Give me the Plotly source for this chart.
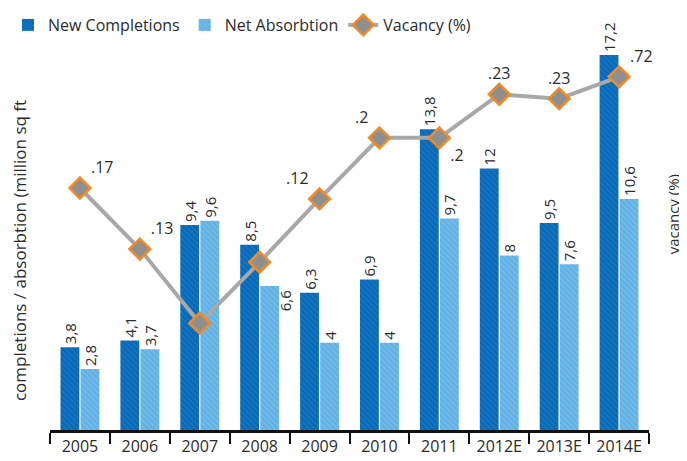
import plotly.graph_objects as go

years = ["2005", "2006", "2007", "2008", "2009", "2010", "2011", "2012E", "2013E", "2014E"]
completions = [3.8, 4.1, 9.4, 8.5, 6.3, 6.9, 13.8, 12, 9.5, 17.2]
absorption = [2.8, 3.7, 9.6, 6.6, 4, 4, 9.7, 8, 7.6, 10.6]
completion_labels = ["3,8", "4,1", "9,4", "8,5", "6,3", "6,9", "13,8", "12", "9,5", "17,2"]
absorption_labels = ["2,8", "3,7", "9,6", "", "4", "4", "9,7", "8", "7,6", "10,6"]
side_label_year = "2008"
side_label_value = 6.6
side_label_text = "6,6"
vacancy = [11.1, 8.3, 4.9, 7.7, 10.6, 13.4, 13.4, 15.4, 15.2, 16.2]
vacancy_labels = [".17", ".13", "", "", ".12", ".2", ".2", ".23", ".23", ".72"]
vacancy_label_pos = ["top right", "top right", "top center", "top center", "top left",
                     "top left", "bottom right", "top center", "top center", "top right"]

DARK = "#0869b8"
LIGHT = "#62b1e4"
FONT = "Open Sans"
TXT = "#2b2b2b"

fig = go.Figure()
fig.add_trace(go.Bar(
    x=years, y=completions, name="New Completions",
    marker=dict(color=DARK, line=dict(width=0),
                pattern=dict(shape="\\", fgcolor="#2a85cc", size=4, solidity=0.35)),
    text=completion_labels, textposition="outside", textangle=-90, constraintext="none",
    textfont=dict(family=FONT, size=15, color=TXT), cliponaxis=False,
))
fig.add_trace(go.Bar(
    x=years, y=absorption, name="Net Absorbtion",
    marker=dict(color=LIGHT, line=dict(width=0),
                pattern=dict(shape="\\", fgcolor="#8ccaf0", size=4, solidity=0.35)),
    text=absorption_labels, textposition="outside", textangle=-90, constraintext="none",
    textfont=dict(family=FONT, size=15, color=TXT), cliponaxis=False,
))
fig.add_trace(go.Scatter(
    x=years, y=vacancy, name="Vacancy (%)", yaxis="y2",
    mode="lines+markers+text",
    line=dict(color="#a8a8a8", width=4),
    marker=dict(symbol="diamond", size=16, color="#8f8f8f",
                line=dict(color="#f28a26", width=2.5)),
    text=vacancy_labels, textposition=vacancy_label_pos,
    textfont=dict(family=FONT, size=16, color=TXT), cliponaxis=False,
))

fig.add_annotation(
    x=years.index(side_label_year), y=side_label_value, xref="x", yref="y",
    text=side_label_text, textangle=-90, showarrow=False,
    xshift=25, yanchor="top", yshift=-2,
    font=dict(family=FONT, size=15, color=TXT),
)
fig.add_annotation(
    x=-0.05, y=0.465, xref="paper", yref="paper", xanchor="center", yanchor="middle",
    text="completions / absorbtion (million sq ft", textangle=-90, showarrow=False,
    font=dict(family=FONT, size=17, color=TXT),
)
fig.add_annotation(
    x=1.04, y=0.56, xref="paper", yref="paper", xanchor="center", yanchor="middle",
    text="vacancy (%)", textangle=-90, showarrow=False,
    font=dict(family=FONT, size=15, color=TXT),
)

yrange = [0, 17.66]
fig.update_layout(
    width=679, height=453,
    margin=dict(l=42, r=38, t=37, b=31, autoexpand=False),
    paper_bgcolor="white", plot_bgcolor="white",
    font=dict(family=FONT, size=16, color=TXT),
    barmode="group", bargap=0.33, bargroupgap=0.06,
    showlegend=True,
    legend=dict(orientation="h", xref="container", yref="container",
                x=0.0, xanchor="left", y=1.0, yanchor="top",
                font=dict(family=FONT, size=16, color=TXT)),
    xaxis=dict(type="category", range=[-0.5, len(years) - 0.5],
               showline=True, linecolor="#111111", linewidth=3,
               ticks="outside", tickson="boundaries", ticklen=11, tickwidth=2,
               tickcolor="#111111", showgrid=False,
               tickfont=dict(family=FONT, size=16, color=TXT)),
    yaxis=dict(range=yrange, showticklabels=False, showgrid=False, zeroline=False,
               showline=False, ticks=""),
    yaxis2=dict(range=yrange, overlaying="y", side="right", showticklabels=False,
                showgrid=False, zeroline=False, showline=False, ticks=""),
)

fig.write_html("out.html")
